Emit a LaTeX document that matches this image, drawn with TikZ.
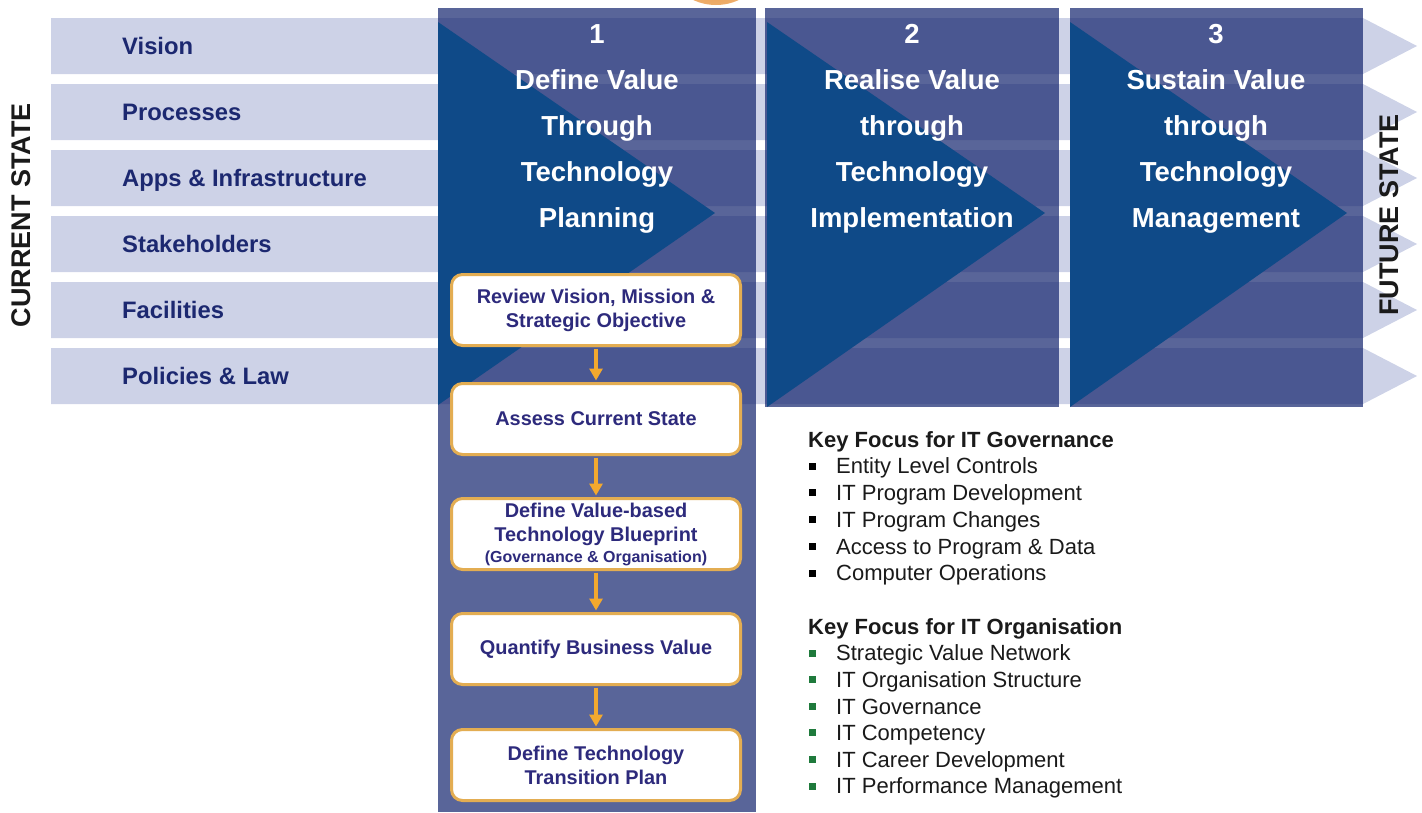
\documentclass[tikz,border=0pt]{standalone}
\usepackage{fontspec}
\setmainfont{Liberation Sans}
\usetikzlibrary{arrows.meta}
\definecolor{rowc}{HTML}{CDD2E7}
\definecolor{colc}{HTML}{13246D}
\definecolor{tric}{HTML}{0F4A88}
\definecolor{navy}{HTML}{1C2870}
\definecolor{boxtxt}{HTML}{2D2A7C}
\definecolor{gold}{HTML}{E3AD52}
\definecolor{arrc}{HTML}{F3A92E}
\definecolor{bulg}{HTML}{1F7A3C}
\definecolor{txtc}{HTML}{1A1A1A}
\definecolor{blobc}{HTML}{E8923A}
\begin{document}
\begin{tikzpicture}[x=1pt,y=-1pt,
  rowlabel/.style={anchor=west,inner sep=0pt,text=navy,font=\fontsize{23.8}{28}\selectfont\bfseries,text height=17pt,text depth=0pt},
  colhead/.style={inner sep=0pt,text=white,align=center,font=\fontsize{27.5}{46}\selectfont\bfseries},
  statelabel/.style={inner sep=0pt,rotate=90,text=txtc,font=\fontsize{27}{32}\selectfont\bfseries},
  stepbox/.style={draw=gold,line width=3pt,fill=white,rounded corners=11pt,minimum width=289pt,minimum height=71pt,inner sep=0pt,align=center,text=boxtxt,font=\fontsize{19.9}{24}\selectfont\bfseries},
  flowarrow/.style={draw=arrc,line width=3.2pt,-{Triangle[width=13pt,length=12pt]},shorten <=1.5pt,shorten >=1.5pt},
  keyhead/.style={anchor=west,inner sep=0pt,text=txtc,font=\fontsize{22}{26}\selectfont\bfseries,text height=15.8pt,text depth=0pt},
  keyitem/.style={anchor=west,inner sep=0pt,text=txtc,font=\fontsize{22}{26}\selectfont,text height=15.8pt,text depth=0pt},
  bulletsq/.style={rectangle,inner sep=0pt,minimum size=7pt}
]
\useasboundingbox (0,0) rectangle (1422,812);
% orange blob at top
\shade[inner color=blobc,outer color=blobc!75!white] (716,-30) ellipse [x radius=44pt,y radius=35pt];
% rows
\foreach \i in {0,...,5}{
  \pgfmathsetmacro\yc{46+66*\i}
  \fill[rowc] (51,\yc-28) -- (1363,\yc-28) -- (1417,\yc) -- (1363,\yc+28) -- (51,\yc+28) -- cycle;
}
% columns
\fill[colc,opacity=0.7] (438,8) rectangle (756,812);
\fill[colc,opacity=0.7] (765,8) rectangle (1059,407);
\fill[colc,opacity=0.7] (1070,8) rectangle (1363,407);
% triangles
\fill[tric] (438,22) -- (715,213) -- (438,405) -- cycle;
\fill[tric] (767,22) -- (1045,213) -- (767,407) -- cycle;
\fill[tric] (1070,22) -- (1347,213) -- (1070,407) -- cycle;
% row labels
\node[rowlabel] (r0) at (122,46) {Vision};
\node[rowlabel] (r1) at (122,112) {Processes};
\node[rowlabel] (r2) at (122,178) {Apps \& Infrastructure};
\node[rowlabel] (r3) at (122,244) {Stakeholders};
\node[rowlabel] (r4) at (122,310) {Facilities};
\node[rowlabel] (r5) at (122,376) {Policies \& Law};
% state labels
\node[statelabel] (cur) at (21,215) {CURRENT STATE};
\node[statelabel] (fut) at (1389,215) {FUTURE STATE};
% column headings
\node[colhead] (h1) at (597,129) {1\\Define Value\\Through\\Technology\\Planning};
\node[colhead] (h2) at (912,129) {2\\Realise Value\\through\\Technology\\Implementation};
\node[colhead] (h3) at (1216,129) {3\\Sustain Value\\through\\Technology\\Management};
% step boxes
\node[stepbox] (b1) at (596,310) {Review Vision, Mission \&\\Strategic Objective};
\node[stepbox] (b2) at (596,419) {Assess Current State};
\node[stepbox] (b3) at (596,534) {Define Value-based\\Technology Blueprint\\[-3pt]{\fontsize{16}{21}\selectfont (Governance \& Organisation)}};
\node[stepbox] (b4) at (596,649) {Quantify Business Value};
\node[stepbox] (b5) at (596,765) {Define Technology\\Transition Plan};
\draw[flowarrow] (b1) -- (b2);
\draw[flowarrow] (b2) -- (b3);
\draw[flowarrow] (b3) -- (b4);
\draw[flowarrow] (b4) -- (b5);
% key focus lists
\node[keyhead] (k1) at (808,440) {Key Focus for IT Governance};
\foreach \t [count=\n] in {Entity Level Controls,IT Program Development,IT Program Changes,Access to Program \& Data,Computer Operations}{
  \pgfmathsetmacro\yy{466+26.75*(\n-1)}
  \node[bulletsq,fill=black] (ga\n) at (812.5,\yy) {};
  \node[keyitem] (gt\n) at (836,\yy) {\t};
}
\node[keyhead] (k2) at (808,627) {Key Focus for IT Organisation};
\foreach \t [count=\n] in {Strategic Value Network,IT Organisation Structure,IT Governance,IT Competency,IT Career Development,IT Performance Management}{
  \pgfmathsetmacro\yy{653+26.6*(\n-1)}
  \node[bulletsq,fill=bulg] (oa\n) at (812.5,\yy) {};
  \node[keyitem] (ot\n) at (836,\yy) {\t};
}
\end{tikzpicture}
\end{document}
